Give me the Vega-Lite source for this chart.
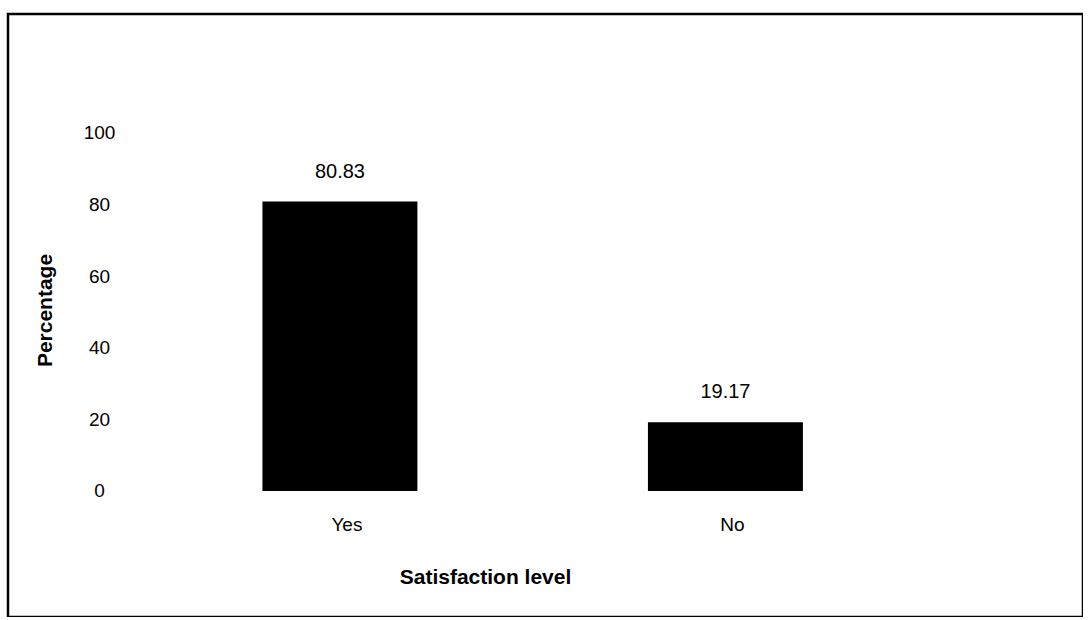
{
  "$schema": "https://vega.github.io/schema/vega-lite/v6.json",
  "autosize": "none",
  "width": 1075,
  "height": 603,
  "padding": {"left": 8, "top": 14, "right": 0, "bottom": 0},
  "background": "white",
  "config": {
    "view": {"stroke": "black", "strokeWidth": 2.5},
    "font": "Liberation Sans"
  },
  "data": {
    "values": [
      {"level": "Yes", "pct": 80.83},
      {"level": "No", "pct": 19.17}
    ]
  },
  "encoding": {
    "x": {
      "field": "level",
      "type": "nominal",
      "sort": ["Yes", "No"],
      "scale": {"paddingInner": 0.598, "paddingOuter": 0.6933, "align": 0.476},
      "axis": {
        "title": "Satisfaction level",
        "labelAngle": 0,
        "domain": false,
        "ticks": false,
        "offset": -93,
        "labelPadding": 0,
        "labelOffset": 7,
        "labelBaseline": "middle",
        "labelFontSize": 19,
        "labelColor": "black",
        "labelFont": "Liberation Sans",
        "titleFont": "Liberation Sans",
        "titleFontSize": 21,
        "titleFontWeight": "bold",
        "titleColor": "black",
        "titleX": 477,
        "titleY": 53,
        "titleBaseline": "middle",
        "titleAlign": "center"
      }
    },
    "y": {
      "field": "pct",
      "type": "quantitative",
      "scale": {"domain": [-35.2, 133.24], "nice": false, "zero": false},
      "axis": {
        "title": "Percentage",
        "values": [0, 20, 40, 60, 80, 100],
        "domain": false,
        "ticks": false,
        "grid": false,
        "offset": -91,
        "labelPadding": 0,
        "labelAlign": "center",
        "labelBaseline": "middle",
        "labelFontSize": 19,
        "labelColor": "black",
        "labelFont": "Liberation Sans",
        "titleFont": "Liberation Sans",
        "titleFontSize": 21,
        "titleFontWeight": "bold",
        "titleColor": "black",
        "titleAngle": 270,
        "titleX": -54,
        "titleY": 296,
        "titleBaseline": "middle",
        "titleAlign": "center"
      }
    }
  },
  "layer": [
    {
      "mark": {"type": "bar", "color": "black"},
      "encoding": {"y2": {"datum": 0}}
    },
    {
      "mark": {"type": "text", "baseline": "middle", "dy": -30, "fontSize": 20, "color": "black", "font": "Liberation Sans"},
      "encoding": {"text": {"field": "pct", "type": "quantitative", "format": ".2f"}}
    }
  ]
}
